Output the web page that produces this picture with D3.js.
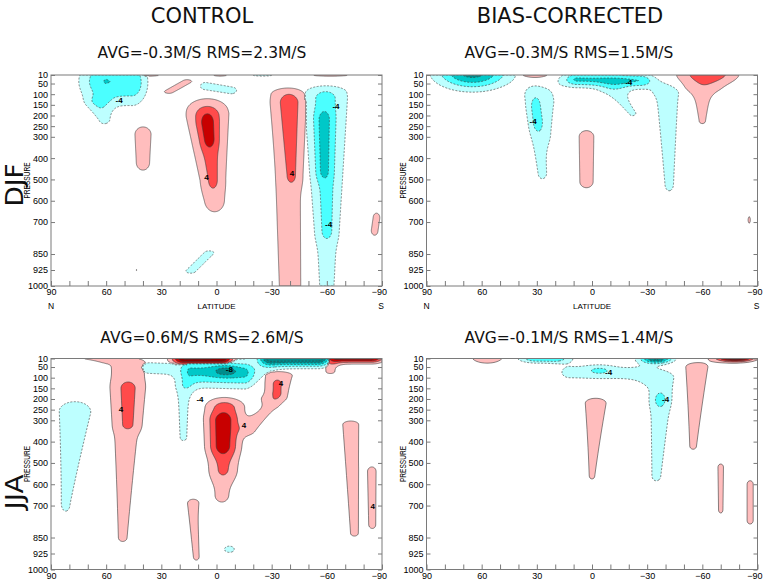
<!DOCTYPE html>
<html>
<head>
<meta charset="utf-8">
<script src="https://cdn.jsdelivr.net/npm/d3@7/dist/d3.min.js"></script>
<style>
  body { margin: 0; background: #fff; }
  svg { display: block; }
</style>
</head>
<body>
<svg id="chart" width="764" height="580"></svg>
<script>
//////////////////////////////////////////////////////////////////////
////////////////////////////  data  //////////////////////////////////
var pressureTicks = [10, 50, 100, 150, 200, 250, 300, 400, 500, 600, 700, 850, 925, 1000];
var latTicks = [90, 60, 30, 0, -30, -60, -90];
var latMinorTicks = [90, 80, 70, 60, 50, 40, 30, 20, 10, 0, -10, -20, -30, -40, -50, -60, -70, -80, -90];
var contourLevels = [2, 4, 6, 8, 10, 12, 14, 16];

var columnTitles = ["CONTROL", "BIAS-CORRECTED"];
var seasonNames = ["DJF", "JJA"];
var panelTitles = ["AVG=-0.3M/S RMS=2.3M/S", "AVG=-0.3M/S RMS=1.5M/S",
                   "AVG=0.6M/S RMS=2.6M/S", "AVG=-0.1M/S RMS=1.4M/S"];

// anomaly cells (m/s)
// [lat1, p1, lat2, p2, amp1, amp2, sdLat1, sdLat2, sdPup, sdPdown]
var djfControl = [
  [60, 40, 46, 45, -6.05, -5.7, 10, 6, 75, 75],
  [64, 140, 61, 220, -2.6, -2.4, 5, 3.5, 25, 25],
  [16, 40, 26, 88, 2.7, 2.6, 3, 3, 10, 10],
  [6, 62, -8, 82, -2.7, -2.6, 3.5, 4, 22, 22],
  [40, 290, 40, 420, 2.6, 2.6, 6, 5, 50, 50],
  [5, 170, 1, 600, 2.4, 2.6, 11, 7, 55, 70],
  [5, 200, 2, 500, 2.6, 2.0, 7, 3.5, 40, 50],
  [5, 235, 4, 310, 2.2, 2.2, 3.5, 3, 35, 35],
  [-38, 100, -40, 1000, 2.6, 2.7, 10, 7.5, 30, 60],
  [-40, 140, -41, 480, 2.7, 2.0, 5, 3, 35, 40],
  [-60, 90, -60, 1000, -2.7, -2.7, 12, 5, 30, 60],
  [-59, 120, -60, 740, -2.3, -2.0, 6, 3.5, 30, 40],
  [-58, 220, -58, 460, -2.0, -2.0, 3.5, 3, 35, 35],
  [-87, 680, -86, 740, 2.6, 2.6, 2.5, 2.5, 30, 30],
  [4, 845, 14, 930, -2.5, -2.5, 4, 4, 15, 15],
  [43.5, 925, 43.5, 925, 2.2, 2.2, 0.8, 0.8, 6, 6],
  [37, 10, 37, 10, 3.2, 3.2, 6, 6, 6, 6],
  [-2, 10, -2, 10, 3, 3, 4, 4, 6, 6],
  [-25, 10, -25, 10, -3, -3, 6, 6, 6, 6],
  [-62, 10, -62, 10, 3.2, 3.2, 10, 10, 6, 6]
];
var djfBias = [
  [65, -5, 65, -5, -9, -9, 13.5, 13.5, 55, 55],
  [31, 0, 31, 0, 5.5, 5.5, 5.5, 5.5, 15, 15],
  [31, 110, 27, 470, -2.6, -2.5, 6.5, 3.5, 50, 40],
  [22, 140, 24, 280, -1.3, -1.0, 5, 4, 50, 50],
  [31, 160, 30, 230, -2.0, -2.0, 2.5, 2.5, 40, 40],
  [8, 30, -26, 35, -5, -4.6, 5, 5, 22, 22],
  [15, 40, -36, 50, -1.4, -1.4, 6, 6, 35, 35],
  [-12, 80, -22, 190, -2.4, -2.2, 6, 4, 30, 25],
  [-41, 100, -42, 520, -3.2, -2.5, 6, 3.5, 30, 50],
  [-63, 0, -63, 0, 5.6, 5.6, 12, 12, 42, 42],
  [-60, 80, -60, 225, 2.4, 2.2, 8, 4, 30, 30],
  [3, 300, 3, 510, 2.6, 2.6, 5.5, 5, 40, 40],
  [-85.5, 690, -85.5, 690, 2.3, 2.3, 1.2, 1.2, 30, 30]
];
var jjaControl = [
  [77, 260, 82, 690, -2.9, -2.4, 10, 4, 55, 60],
  [48, 30, 51, 850, 2.7, 2.3, 12, 4.5, 30, 35],
  [48, 150, 48, 320, 2.2, 2.0, 4.5, 4, 30, 25],
  [72, 0, 60, 10, 2.6, 2.6, 5, 5, 12, 12],
  [13, 690, 11, 940, 2.4, 2.3, 4.5, 3, 30, 30],
  [-5, 68, -5, 68, -3, -3, 5, 5, 18, 18],
  [14, 80, -15, 85, -4, -4, 4, 4, 50, 50],
  [36, 50, -20, 70, -2.5, -2.5, 8, 8, 30, 45],
  [18, 150, 18, 380, -2.6, -2.4, 4, 3, 30, 25],
  [-30, 5, -55, 5, -12, -12, 5, 5, 28, 28],
  [17, 12, -2, 12, 10, 10, 5, 5, 10, 18],
  [-66, 5, -84, 5, 9, 9, 5, 5, 18, 18],
  [-62, 40, -62, 70, 2.5, 2.5, 3.5, 3.5, 15, 15],
  [-4, 220, -3, 650, 2.4, 2.4, 7.5, 6, 30, 55],
  [-5, 240, -4, 530, 2.4, 2.0, 8.5, 6, 25, 40],
  [-3, 300, -3, 420, 2.6, 2.6, 5.5, 5.5, 30, 35],
  [-18, 340, -30, 230, 2.4, 2.4, 4, 4, 25, 25],
  [-34, 90, -32, 190, 2.6, 2.5, 10, 8, 25, 25],
  [-33, 130, -33, 170, 2.2, 2.2, 2.5, 2.5, 20, 20],
  [-7, 905, -7, 905, -2.5, -2.5, 4, 4, 22, 22],
  [-73, 320, -75, 830, 2.5, 2.3, 6.5, 4, 25, 25],
  [-85, 540, -85, 790, 2.4, 2.4, 2.5, 2.5, 25, 25]
];
var jjaBias = [
  [57, 0, 57, 0, 3.5, 3.5, 8, 8, 30, 30],
  [30, 8, 22, 8, -6, -6, 7, 7, 16, 16],
  [34, 150, 34, 150, -2.1, -2.1, 1, 1, 8, 8],
  [12, 75, -28, 80, -2.6, -2.6, 6, 6, 35, 35],
  [-4, 65, -4, 65, -2.2, -2.2, 5, 5, 15, 15],
  [-35, 10, -35, 10, -10, -10, 6, 6, 16, 16],
  [-38, 100, -35, 560, -3.0, -2.4, 7, 4, 30, 40],
  [-37, 205, -37, 205, -2.0, -2.0, 3, 3, 30, 30],
  [-2, 220, 0, 560, 2.5, 2.2, 8.5, 3.5, 35, 35],
  [-57, 50, -55, 420, 2.5, 2.3, 9, 3.5, 30, 30],
  [-78, 5, -78, 5, 12, 12, 7, 7, 14, 14],
  [-70, 520, -70, 720, 2.4, 2.4, 2.5, 2, 25, 25],
  [-86, 600, -86, 770, 2.5, 2.5, 2.5, 2.5, 25, 25]
];

// contour labels [text, lat, p]
var djfControlLabels = [["-4", 53, 128], ["4", 5.5, 490], ["4", -41, 470], ["-4", -65, 158], ["-4", -61, 710]];
var djfBiasLabels = [["-4", 32, 228], ["-4", -20, 42]];
var jjaControlLabels = [["4", 52, 250], ["-4", 9, 203], ["-8", -7, 62], ["4", -15, 325], ["4", -35, 125], ["4", -85, 705]];
var jjaBiasLabels = [["-4", -9, 76], ["-4", -40, 202]];

var posColors = ["#ffbdbd", "#ff4b4b", "#c80000", "#8c0000"];
var negColors = ["#bdffff", "#4bffff", "#00c8c8", "#008c8c"];

//////////////////////////////////////////////////////////////////////
////////////////////////////  field  /////////////////////////////////
function cellValue(f, lat, p) {
  var sl = (f[6] + f[7]) / 2, sp = (f[8] + f[9]) / 2;
  var ax = f[0] / sl, ay = f[1] / sp, bx = f[2] / sl, by = f[3] / sp;
  var px = lat / sl, py = p / sp;
  var dx = bx - ax, dy = by - ay, len2 = dx * dx + dy * dy;
  var t = len2 > 0 ? Math.max(0, Math.min(1, ((px - ax) * dx + (py - ay) * dy) / len2)) : 0;
  var cLat = f[0] + t * (f[2] - f[0]);
  var cP = f[1] + t * (f[3] - f[1]);
  var amp = f[4] + t * (f[5] - f[4]);
  var sLat = f[6] + t * (f[7] - f[6]);
  var dp = p - cP;
  var sP = dp < 0 ? f[8] : f[9];
  var dl = (lat - cLat) / sLat;
  return amp * Math.exp(-0.5 * (dl * dl + (dp / sP) * (dp / sP)));
}

// positive and negative cells summed apart, the stronger sign wins
function fieldAt(feats, lat, p) {
  var P = 0, N = 0;
  feats.forEach(function(f) {
    var v = cellValue(f, lat, p);
    if (f[4] > 0) P += v; else N += v;
  });
  return P >= -N ? P : N;
}

//////////////////////////////////////////////////////////////////////
////////////////////////////  layout  ////////////////////////////////
var svg = d3.select("#chart");
var W = 331, H = 211;
var font = "'Liberation Sans', Arial, sans-serif";
var fmt = d3.format("d");

var panels = [
  {x0: 51, y0: 75, feats: djfControl, labels: djfControlLabels, title: panelTitles[0], tx: 202, ty: 58, latText: true},
  {x0: 426.5, y0: 75, feats: djfBias, labels: djfBiasLabels, title: panelTitles[1], tx: 569, ty: 58, latText: true},
  {x0: 51, y0: 358.5, feats: jjaControl, labels: jjaControlLabels, title: panelTitles[2], tx: 202, ty: 343, latText: false},
  {x0: 426.5, y0: 358.5, feats: jjaBias, labels: jjaBiasLabels, title: panelTitles[3], tx: 569, ty: 343, latText: false}
];

// column titles
svg.selectAll("text.coltitle")
  .data(columnTitles)
  .enter()
  .append("text")
  .attr("class", "coltitle")
  .attr("x", function(d, i) { return i === 0 ? 202 : 570; })
  .attr("y", 23)
  .attr("text-anchor", "middle")
  .attr("font-family", "'DejaVu Sans', sans-serif")
  .attr("font-size", "21px")
  .attr("fill", "#111")
  .text(function(d) { return d; });

// season labels
svg.selectAll("text.season")
  .data(seasonNames)
  .enter()
  .append("text")
  .attr("class", "season")
  .attr("transform", function(d, i) { return "translate(23," + (i === 0 ? 185 : 492) + ") rotate(-90)"; })
  .attr("text-anchor", "middle")
  .attr("font-family", "'DejaVu Sans', sans-serif")
  .attr("font-size", "24px")
  .attr("textLength", function(d, i) { return i === 0 ? 43 : 35; })
  .attr("lengthAdjust", "spacingAndGlyphs")
  .attr("fill", "#111")
  .text(function(d) { return d; });

panels.forEach(function(pan, k) {
  var x = d3.scaleLinear().domain([90, -90]).range([0, W]);
  var y = d3.scaleLinear().domain([10, 1000]).range([0, H]);

  var g = svg.append("g").attr("transform", "translate(" + pan.x0 + "," + pan.y0 + ")");

  g.append("clipPath").attr("id", "clip" + k)
    .append("rect").attr("width", W).attr("height", H);

  // sample the field on a pixel grid
  var vals = new Array(W * H);
  for (var j = 0; j < H; j++) {
    for (var i = 0; i < W; i++) {
      vals[j * W + i] = fieldAt(pan.feats, x.invert(i + 0.5), y.invert(j + 0.5));
    }
  }
  var gen = d3.contours().size([W, H]).thresholds(contourLevels);
  var posC = gen(vals);
  var negC = gen(vals.map(function(v) { return -v; }));
  var path = d3.geoPath();

  var layer = g.append("g").attr("clip-path", "url(#clip" + k + ")");

  layer.selectAll("path.pos")
    .data(posC.filter(function(c) { return c.coordinates.length; }))
    .enter()
    .append("path")
    .attr("class", "pos")
    .attr("d", path)
    .attr("fill", function(c) { return posColors[Math.min(c.value / 2 - 1, 3)]; })
    .attr("stroke", "#3a3a3a")
    .attr("stroke-width", 0.6);

  layer.selectAll("path.neg")
    .data(negC.filter(function(c) { return c.coordinates.length; }))
    .enter()
    .append("path")
    .attr("class", "neg")
    .attr("d", path)
    .attr("fill", function(c) { return negColors[Math.min(c.value / 2 - 1, 3)]; })
    .attr("stroke", "#3a3a3a")
    .attr("stroke-width", 0.6)
    .attr("stroke-dasharray", "2,1.5");

  // contour labels
  layer.selectAll("text.clab")
    .data(pan.labels)
    .enter()
    .append("text")
    .attr("class", "clab")
    .attr("x", function(d) { return x(d[1]); })
    .attr("y", function(d) { return y(d[2]); })
    .attr("dy", "0.35em")
    .attr("text-anchor", "middle")
    .attr("font-family", font)
    .attr("font-weight", "bold")
    .attr("font-size", "8px")
    .attr("fill", "#000")
    .text(function(d) { return d[0]; });

  // frame
  g.append("rect")
    .attr("width", W).attr("height", H)
    .attr("fill", "none")
    .attr("stroke", "#7a7a7a")
    .attr("stroke-width", 1);

  // axes
  var yLeft = g.append("g")
    .call(d3.axisLeft(y).tickValues(pressureTicks).tickSize(-4).tickSizeOuter(0).tickPadding(3).tickFormat(fmt));
  var yRight = g.append("g")
    .attr("transform", "translate(" + W + ",0)")
    .call(d3.axisRight(y).tickValues(pressureTicks).tickSize(-4).tickSizeOuter(0).tickFormat(""));
  var xBottom = g.append("g")
    .attr("transform", "translate(0," + H + ")")
    .call(d3.axisBottom(x).tickValues(latMinorTicks).tickSize(-5).tickSizeOuter(0).tickPadding(3)
      .tickFormat(function(d) { return latTicks.indexOf(d) >= 0 ? fmt(d) : ""; }));

  [yLeft, yRight, xBottom].forEach(function(a) {
    a.select(".domain").remove();
    a.selectAll(".tick line").attr("stroke", "#7a7a7a");
    a.selectAll(".tick text")
      .attr("font-family", font)
      .attr("font-size", "9px")
      .attr("fill", "#000");
  });
  // keep the -90 label inside the picture
  xBottom.selectAll(".tick text")
    .attr("dx", function(d) { return d === -90 ? "-3" : "0"; });

  // pressure label
  g.append("text")
    .attr("transform", "translate(" + (-21) + "," + (H / 2) + ") rotate(-90)")
    .attr("text-anchor", "middle")
    .attr("font-family", font)
    .attr("font-size", "9px")
    .attr("textLength", 36)
    .attr("lengthAdjust", "spacingAndGlyphs")
    .attr("fill", "#000")
    .text("PRESSURE");

  if (pan.latText) {
    g.append("text")
      .attr("x", 0).attr("y", H + 23)
      .attr("text-anchor", "middle")
      .attr("font-family", font).attr("font-size", "8.5px").attr("fill", "#000")
      .text("N");
    g.append("text")
      .attr("x", W - 1).attr("y", H + 23)
      .attr("text-anchor", "middle")
      .attr("font-family", font).attr("font-size", "8.5px").attr("fill", "#000")
      .text("S");
    g.append("text")
      .attr("x", x(0)).attr("y", H + 23)
      .attr("text-anchor", "middle")
      .attr("font-family", font).attr("font-size", "8px").attr("fill", "#000")
      .text("LATITUDE");
  }

  // panel title
  svg.append("text")
    .attr("x", pan.tx).attr("y", pan.ty)
    .attr("text-anchor", "middle")
    .attr("font-family", "'DejaVu Sans', sans-serif")
    .attr("font-size", "15.5px")
    .attr("fill", "#111")
    .text(pan.title);
});
</script>
</body>
</html>
